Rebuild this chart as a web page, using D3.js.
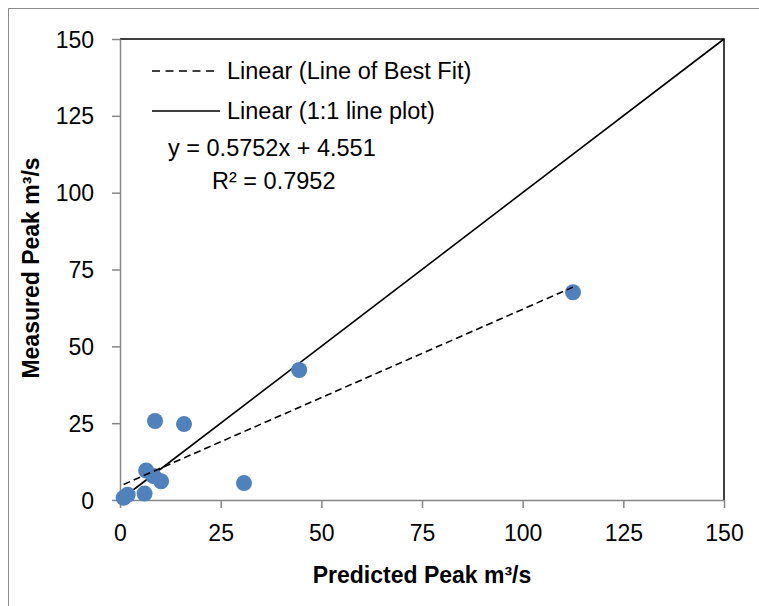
<!DOCTYPE html>
<html>
<head>
<meta charset="utf-8">
<script src="https://cdn.jsdelivr.net/npm/d3@7/dist/d3.min.js"></script>
<style>
  body { margin: 0; background: #fff; }
  svg { display: block; font-family: "Liberation Sans", Arial, sans-serif; }
</style>
</head>
<body>
<svg id="chart" width="759" height="606"></svg>
<script>
// Data
const predicted = [112.5, 44.5, 8.7, 15.9, 6.5, 8.3, 10.2, 30.8, 6.1, 1.9, 0.9];
const measured  = [67.6, 42.3, 25.7, 24.7, 9.6, 7.8, 6.1, 5.5, 2.1, 1.7, 0.7];
const xTicks = [0, 25, 50, 75, 100, 125, 150];
const yTicks = [0, 25, 50, 75, 100, 125, 150];
const slope = 0.5752;
const intercept = 4.551;
const equationLabel = "y = 0.5752x + 4.551";
const r2Value = "0.7952";
const legendLabels = ["Linear (Line of Best Fit)", "Linear (1:1 line plot)"];
const xTitle = "Predicted Peak m³/s";
const yTitle = "Measured Peak m³/s";

const svg = d3.select("#chart");
const mLeft = 120, mRight = 724, mTop = 39, mBottom = 500;

// outer chart frame
svg.append("rect").attr("x", 8.5).attr("y", 8.5).attr("width", 800).attr("height", 700)
  .attr("fill", "none").attr("stroke", "#8c8c8c").attr("stroke-width", 1);

const x = d3.scaleLinear().domain([0, 150]).range([mLeft, mRight]);
const y = d3.scaleLinear().domain([0, 150]).range([mBottom, mTop]);

// plot area border (top/right black)
svg.append("path")
  .attr("d", `M${mLeft},${mTop}H${mRight}V${mBottom}`)
  .attr("fill", "none").attr("stroke", "#000").attr("stroke-width", 1.5);

// axes
const xAxis = svg.append("g").attr("transform", `translate(0,${mBottom})`)
  .call(d3.axisBottom(x).tickValues(xTicks).tickSize(8).tickPadding(17).tickSizeOuter(0));
const yAxis = svg.append("g").attr("transform", `translate(${mLeft},0)`)
  .call(d3.axisLeft(y).tickValues(yTicks).tickSize(8).tickPadding(18).tickSizeOuter(0));
[xAxis, yAxis].forEach(g => {
  g.select(".domain").attr("stroke", "#868686").attr("stroke-width", 1.5);
  g.selectAll(".tick line").attr("stroke", "#868686").attr("stroke-width", 1.5);
  g.selectAll(".tick text").attr("fill", "#000").style("font-size", "23px")
    .style("font-family", "'Liberation Sans', sans-serif");
});
yAxis.selectAll(".tick text").attr("dy", "0.35em");
xAxis.selectAll(".tick text").attr("dy", "0.71em");

// 1:1 line
svg.append("line")
  .attr("x1", x(0)).attr("y1", y(0)).attr("x2", x(150)).attr("y2", y(150))
  .attr("stroke", "#000").attr("stroke-width", 1.6);

// points
svg.append("g").selectAll("circle")
  .data(predicted.map((p, i) => [p, measured[i]]))
  .join("circle")
  .attr("cx", d => x(d[0])).attr("cy", d => y(d[1])).attr("r", 8)
  .attr("fill", "#4F81BD");

// best fit line
const xmin = d3.min(predicted), xmax = d3.max(predicted);
svg.append("line")
  .attr("x1", x(xmin)).attr("y1", y(slope * xmin + intercept))
  .attr("x2", x(xmax)).attr("y2", y(slope * xmax + intercept))
  .attr("stroke", "#000").attr("stroke-width", 1.6).attr("stroke-dasharray", "7,4");

// legend
const lg = svg.append("g").style("font-size", "23.5px");
lg.append("line").attr("x1", 152).attr("x2", 214).attr("y1", 71).attr("y2", 71)
  .attr("stroke", "#000").attr("stroke-width", 1.6).attr("stroke-dasharray", "8,5.5");
lg.append("text").attr("x", 227).attr("y", 79).text(legendLabels[0]);
lg.append("line").attr("x1", 152).attr("x2", 220).attr("y1", 111).attr("y2", 111)
  .attr("stroke", "#000").attr("stroke-width", 1.6);
lg.append("text").attr("x", 227).attr("y", 119).text(legendLabels[1]);

const eq = svg.append("g").style("font-size", "23.5px");
eq.append("text").attr("x", 168).attr("y", 156).text(equationLabel);
const r2 = eq.append("text").attr("x", 212).attr("y", 189);
r2.append("tspan").text("R");
r2.append("tspan").text("²");
r2.append("tspan").text(" = " + r2Value);

// axis titles
svg.append("text").attr("x", 422).attr("y", 583).attr("text-anchor", "middle")
  .style("font-size", "23px").style("font-weight", "bold").text(xTitle);
svg.append("text").attr("transform", `translate(39,268) rotate(-90)`).attr("text-anchor", "middle")
  .style("font-size", "23px").style("font-weight", "bold").text(yTitle);
</script>
</body>
</html>
